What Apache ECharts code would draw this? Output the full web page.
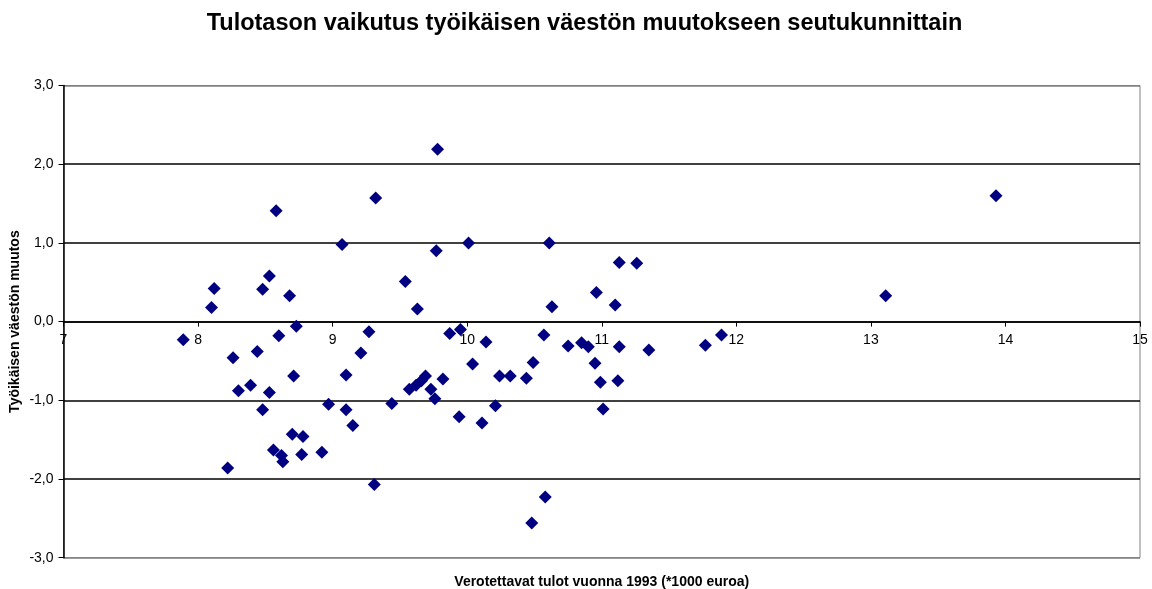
<!DOCTYPE html>
<html>
<head>
<meta charset="utf-8">
<script src="https://cdn.jsdelivr.net/npm/echarts@6/dist/echarts.min.js"></script>
<style>
html,body{margin:0;padding:0;background:#fff;}
#chart{width:1152px;height:589px;}
</style>
</head>
<body>
<div id="chart"></div>
<script>
const chartTitle = 'Tulotason vaikutus työikäisen väestön muutokseen seutukunnittain';
const xAxisTitle = 'Verotettavat tulot vuonna 1993 (*1000 euroa)';
const yAxisTitle = 'Työikäisen väestön muutos';

// Taxable income 1993 (*1000 euro)
const incomeValues = [
  7.89, 8.10, 8.12, 8.22, 8.26, 8.30, 8.39, 8.44, 8.48, 8.48,
  8.53, 8.53, 8.56, 8.58, 8.60, 8.62, 8.63, 8.68, 8.70, 8.71,
  8.73, 8.77, 8.78, 8.92, 8.97, 9.07, 9.10, 9.10, 9.15, 9.21,
  9.27, 9.31, 9.32, 9.44, 9.54, 9.57, 9.62, 9.63, 9.66, 9.69,
  9.73, 9.76, 9.77, 9.78, 9.82, 9.87, 9.94, 9.95, 10.01, 10.04,
  10.11, 10.14, 10.21, 10.24, 10.32, 10.44, 10.48, 10.49, 10.57, 10.58,
  10.61, 10.63, 10.75, 10.85, 10.90, 10.95, 10.96, 10.99, 11.01, 11.10,
  11.12, 11.13, 11.13, 11.26, 11.35, 11.77, 11.89, 13.11, 13.93
];
// Change of working-age population
const changeValues = [
  -0.23, 0.18, 0.42, -1.86, -0.46, -0.88, -0.81, -0.38, 0.41, -1.12,
  0.58, -0.90, -1.63, 1.41, -0.18, -1.70, -1.78, 0.33, -1.43, -0.69,
  -0.06, -1.69, -1.46, -1.66, -1.05, 0.98, -0.68, -1.12, -1.32, -0.40,
  -0.13, -2.07, 1.57, -1.04, 0.51, -0.86, -0.81, 0.16, -0.75, -0.69,
  -0.86, -0.98, 0.90, 2.19, -0.73, -0.15, -1.21, -0.10, 1.00, -0.54,
  -1.29, -0.26, -1.07, -0.69, -0.69, -0.72, -2.56, -0.52, -0.17, -2.23,
  1.00, 0.19, -0.31, -0.27, -0.32, -0.53, 0.37, -0.77, -1.11, 0.21,
  -0.75, -0.32, 0.75, 0.74, -0.36, -0.30, -0.17, 0.33, 1.60
];

const xMin = 7, xMax = 15, xStep = 1;
const yMin = -3, yMax = 3, yStep = 1;

const points = incomeValues.map((x, i) => [x, changeValues[i]]);
const FONT = '"Liberation Sans", Arial, sans-serif';

const W = 1152, H = 589;
const gridL = 63.5, gridR = 12, gridT = 85.5, gridB = 31.3;
const plotH = H - gridT - gridB;
// x axis crosses the y axis at value 0
const xAxisOffset = -plotH * (0 - yMin) / (yMax - yMin);
const plotCenterX = gridL + (W - gridL - gridR) / 2;

const chart = echarts.init(document.getElementById('chart'), null, {renderer: 'canvas'});
chart.setOption({
  animation: false,
  backgroundColor: '#ffffff',
  grid: {
    left: gridL, right: gridR, top: gridT, bottom: gridB,
    containLabel: false,
    show: true,
    borderColor: '#808080',
    borderWidth: 1
  },
  xAxis: {
    type: 'value',
    position: 'bottom',
    offset: xAxisOffset,
    min: xMin, max: xMax, interval: xStep,
    axisLine: {show: true, onZero: false, lineStyle: {color: '#000', width: 1.5}},
    axisTick: {show: true, inside: false, length: 5, lineStyle: {color: '#000'}},
    axisLabel: {
      show: true, margin: 12, showMinLabel: true, showMaxLabel: true,
      fontFamily: FONT, fontSize: 14, color: '#000'
    },
    splitLine: {show: false}
  },
  yAxis: {
    type: 'value',
    min: yMin, max: yMax, interval: yStep,
    axisLine: {show: true, onZero: false, lineStyle: {color: '#000', width: 1.5}},
    axisTick: {show: true, inside: false, length: 5, lineStyle: {color: '#000'}},
    axisLabel: {
      margin: 10, fontFamily: FONT, fontSize: 14, color: '#000',
      formatter: v => v.toFixed(1).replace('.', ',')
    },
    splitLine: {
      show: true,
      lineStyle: {color: ['#808080', '#000', '#000', '#000', '#000', '#000', '#808080'], width: 1.5}
    }
  },
  graphic: [
    {
      type: 'text',
      x: 584.5, y: 23.5,
      style: {text: chartTitle, font: 'bold 23.5px ' + FONT, fill: '#000', align: 'center', verticalAlign: 'middle'}
    },
    {
      type: 'text',
      x: plotCenterX, y: 575,
      style: {text: xAxisTitle, font: 'bold 14px ' + FONT, fill: '#000', align: 'center', verticalAlign: 'top'}
    },
    {
      type: 'text',
      x: 8, y: 321.6,
      rotation: Math.PI / 2,
      style: {text: yAxisTitle, font: 'bold 14px ' + FONT, fill: '#000', align: 'center', verticalAlign: 'top'}
    }
  ],
  series: [{
    type: 'scatter',
    data: points,
    symbol: 'diamond',
    symbolSize: 13,
    itemStyle: {color: '#000080', opacity: 1},
    z: 5
  }]
});
</script>
</body>
</html>
